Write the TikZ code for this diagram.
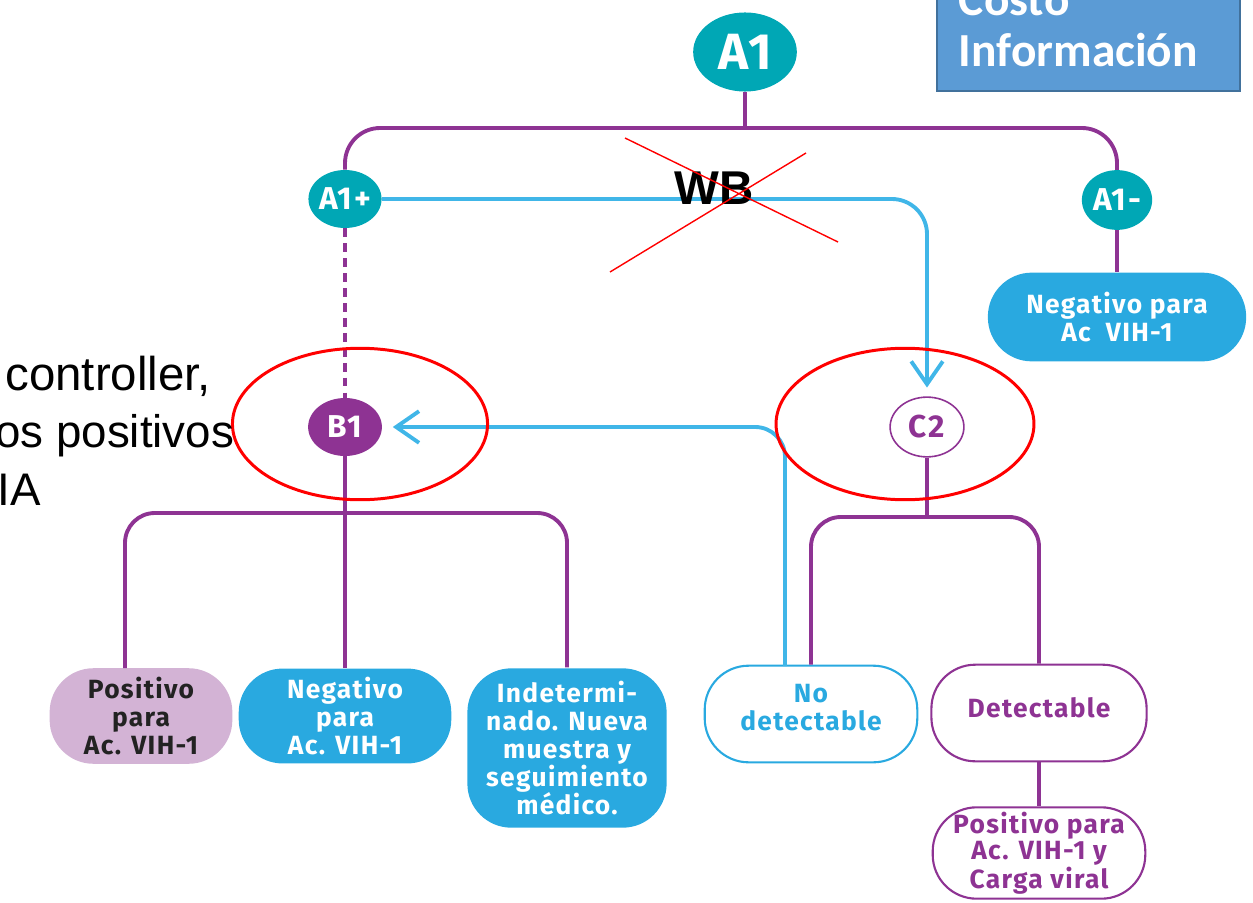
\documentclass[tikz,border=0pt]{standalone}
\usepackage{fontspec}
\setmainfont{Fira Sans}[LetterSpace=5]
\newfontfamily\arialfont{Liberation Sans}
\newfontfamily\calibrifont{Carlito}
\usetikzlibrary{shapes.geometric,arrows.meta}
\definecolor{turq}{HTML}{00A7B5}
\definecolor{lila}{HTML}{8E3393}
\definecolor{lilac}{HTML}{D3B3D5}
\definecolor{celeste}{HTML}{29A9E0}
\definecolor{cielo}{HTML}{40B6E8}
\definecolor{costo}{HTML}{5B9BD5}
\definecolor{costoborde}{HTML}{41719C}
\definecolor{oscuro}{HTML}{222222}

\begin{document}
\begin{tikzpicture}[x=0.02cm,y=-0.02cm,
	bubble/.style={ellipse,inner sep=0pt,text=white,font=\fontsize{18pt}{18pt}\selectfont\bfseries},
	box/.style={rectangle,rounded corners=25pt,inner sep=0pt,align=center,line width=1.2pt,
		font=\fontsize{15pt}{16pt}\selectfont\bfseries},
	pline/.style={draw=lila,line width=2.2pt},
	bline/.style={draw=cielo,line width=2.2pt},
	barb/.style={-{Straight Barb[length=13pt,width=18pt]}},
	redmark/.style={draw=red,line width=1.7pt},
	redx/.style={draw=red,line width=0.8pt}]
	\useasboundingbox (0,0) rectangle (1253,902);
	
	% top level
	\node[bubble,fill=turq,minimum width=59pt,minimum height=45pt,font=\fontsize{29pt}{29pt}\selectfont\bfseries] (A1) at (745,52) {A1};
	\node[bubble,fill=turq,minimum width=40pt,minimum height=33pt] (A1p) at (345,199) {A1+};
	\node[bubble,fill=turq,minimum width=40pt,minimum height=34pt] (A1m) at (1117,200) {A1-};
	\node[box,fill=celeste,text=white,minimum width=147pt,minimum height=50.5pt] (negR) at (1117,317) {Negativo para\\Ac~~VIH-1};
	
	% second level
	\node[bubble,fill=lila,minimum width=42pt,minimum height=33pt] (B1) at (345,427) {B1};
	\node[bubble,fill=white,draw=lila,line width=0.9pt,text=lila,minimum width=42pt,minimum height=34pt] (C2) at (927,427) {C2};
	
	% results
	\node[box,fill=lilac,text=oscuro,minimum width=104pt,minimum height=54.4pt] (posL) at (141,716) {Positivo\\para\\Ac. VIH-1};
	\node[box,fill=celeste,text=white,minimum width=121pt,minimum height=54pt] (negM) at (345,716) {Negativo\\para\\Ac. VIH-1};
	\node[box,fill=celeste,text=white,minimum width=113.4pt,minimum height=90.7pt] (indet) at (567,748) {Indetermi-\\nado. Nueva\\muestra y\\seguimiento\\médico.};
	\node[box,draw=celeste,text=celeste,minimum width=121pt,minimum height=55pt] (nodet) at (811,714) {No\\detectable\\[-8pt]};
	\node[box,draw=lila,text=lila,minimum width=122.5pt,minimum height=55pt] (detec) at (1039,713) {Detectable\\[-10pt]};
	\node[box,draw=lila,text=lila,minimum width=121pt,minimum height=52pt,font=\fontsize{15pt}{13pt}\selectfont\bfseries] (posR) at (1039,853) {Positivo para\\Ac. VIH-1 y\\Carga viral};
	
	\coordinate (jA) at (745,128);
	\coordinate (jB) at (345,513);
	\coordinate (kPos) at (125,668);
	\coordinate (jC) at (927,517);
	\coordinate (kNo) at (785,666);
	
	\draw[pline] (A1) -- (jA);
	\draw[pline,rounded corners=20pt] (A1p) |- (jA) -| (A1m);
	\draw[pline] (A1m) -- (negR);
	\draw[pline,dash pattern=on 5pt off 3.5pt] (A1p) -- (B1);
	\draw[bline,barb,rounded corners=20pt,shorten >=5pt] (A1p) -| (C2);
	
	\draw[pline] (B1) -- (negM);
	\draw[pline,rounded corners=17pt] (kPos) |- (jB) -| (indet);
	\draw[pline] (C2) -- (jC);
	\draw[pline,rounded corners=17pt] (nodet) |- (jC) -| (detec);
	\draw[pline] (detec) -- (posR);
	\draw[bline,barb,rounded corners=17pt,shorten >=6pt] (kNo) |- (B1);
	
	% marks on top
	\node[font=\arialfont\fontsize{27pt}{27pt}\selectfont\bfseries] (WB) at (714,188) {WB};
	\draw[redx] (625,138) -- (838,242) (610,272) -- (806,153);
	\draw[redmark] (360,424) ellipse [x radius=72.6pt, y radius=43.1pt];
	\draw[redmark] (905,424) ellipse [x radius=73.4pt, y radius=43.1pt];
	
	\node[anchor=base west,inner sep=0pt,font=\arialfont\fontsize{27pt}{27pt}\selectfont] (t1) at (5,390) {controller,};
	\node[anchor=base west,inner sep=0pt,font=\arialfont\fontsize{26pt}{26pt}\selectfont] (t2) at (-5,447) {os positivos};
	\node[anchor=base west,inner sep=0pt,font=\arialfont\fontsize{26pt}{26pt}\selectfont] (t3) at (-3,505) {IA};
	
	\node[anchor=south west,fill=costo,draw=costoborde,line width=1.1pt,text=white,align=left,
		text width=147.3pt,inner xsep=12.5pt,inner ysep=13.6pt,
		font=\calibrifont\fontsize{27pt}{29pt}\selectfont\bfseries] (cost) at (936,92) {Costo\\Información};
\end{tikzpicture}
\end{document}
